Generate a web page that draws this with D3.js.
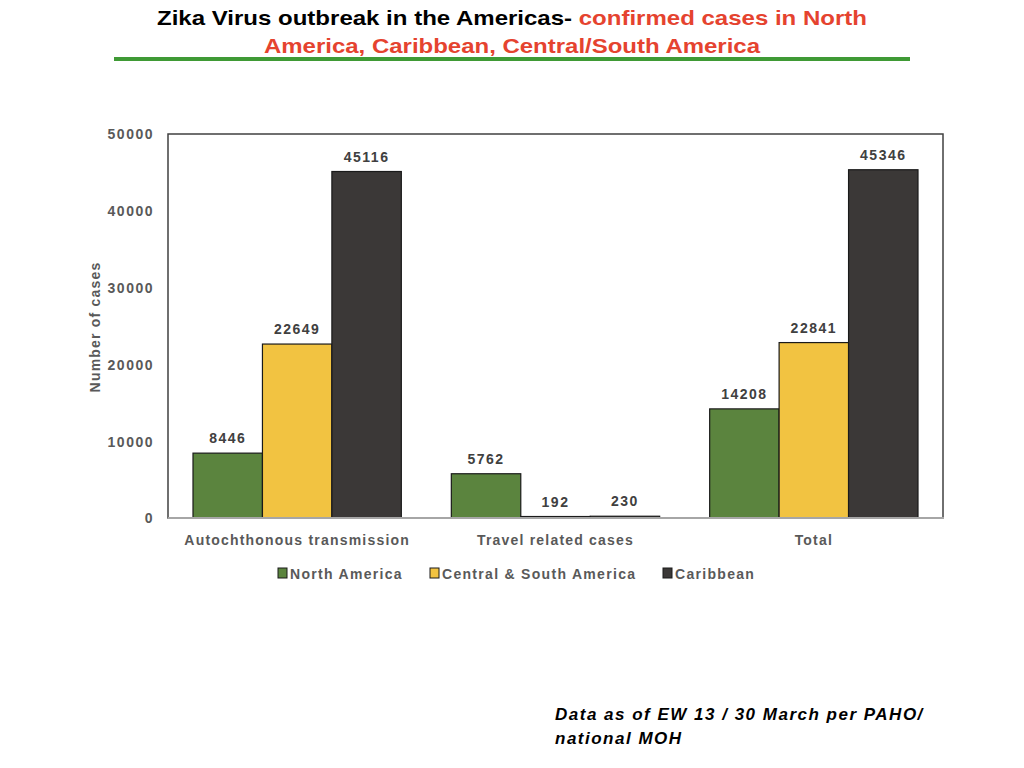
<!DOCTYPE html>
<html>
<head>
<meta charset="utf-8">
<script src="https://cdn.jsdelivr.net/npm/d3@7"></script>
<style>
body { margin:0; background:#fff; }
</style>
</head>
<body>
<svg id="mainSVG" width="1024" height="768"></svg>
<script>
// data
var categories = ["Autochthonous  transmission", "Travel related cases", "Total"];
var series = ["North America", "Central & South America", "Caribbean"];
var northAmerica = [8446, 5762, 14208];
var centralSouth = [22649, 192, 22841];
var caribbean = [45116, 230, 45346];
var colors = ["#5b843e", "#f2c341", "#3b3837"];
var yTicks = [0, 10000, 20000, 30000, 40000, 50000];

var values = [northAmerica, centralSouth, caribbean];
var svg = d3.select("#mainSVG");
var font = "'Liberation Sans', Arial, sans-serif";

// title
var t1 = svg.append("text")
    .attr("x", 512).attr("y", 25)
    .attr("text-anchor", "middle")
    .attr("font-family", font).attr("font-weight", "bold")
    .attr("font-size", 21)
    .attr("textLength", 710).attr("lengthAdjust", "spacingAndGlyphs");
t1.append("tspan").attr("fill", "#000").text("Zika Virus outbreak in the Americas- ");
t1.append("tspan").attr("fill", "#e5432f").text("confirmed cases in North");

svg.append("text")
    .attr("x", 512).attr("y", 53)
    .attr("text-anchor", "middle")
    .attr("font-family", font).attr("font-weight", "bold")
    .attr("font-size", 21).attr("fill", "#e5432f")
    .attr("textLength", 496).attr("lengthAdjust", "spacingAndGlyphs")
    .text("America, Caribbean, Central/South America");

svg.append("rect")
    .attr("x", 114).attr("y", 57).attr("width", 796).attr("height", 4)
    .attr("fill", "#3f9a35");

// chart area
var plotLeft = 168, plotTop = 134, plotRight = 943, plotBottom = 518;

var x0 = d3.scaleBand().domain(categories).range([plotLeft, plotRight]).padding(0);
var gap = 50;
var x1 = d3.scaleBand().domain(series).range([gap / 2, x0.bandwidth() - gap / 2]).padding(0);
var y = d3.scaleLinear().domain([0, 50000]).range([plotBottom, plotTop]);

svg.append("rect")
    .attr("x", plotLeft).attr("y", plotTop)
    .attr("width", plotRight - plotLeft).attr("height", plotBottom - plotTop)
    .attr("fill", "none").attr("stroke", "#404040").attr("stroke-width", 1.5);

var yAxis = svg.append("g")
    .attr("transform", "translate(" + plotLeft + ",0)")
    .call(d3.axisLeft(y).tickValues(yTicks).tickSize(0).tickPadding(14).tickFormat(d3.format("d")));
yAxis.select(".domain").remove();
yAxis.selectAll("text")
    .attr("dy", "0.35em")
    .attr("font-family", font).attr("font-weight", "bold")
    .attr("font-size", 14).attr("letter-spacing", 1.5).attr("fill", "#595959");

svg.append("text")
    .attr("transform", "translate(100,327) rotate(-90)")
    .attr("text-anchor", "middle")
    .attr("font-family", font).attr("font-weight", "bold")
    .attr("font-size", 14).attr("letter-spacing", 1.2).attr("fill", "#595959")
    .text("Number of cases");

// bars
var groups = svg.selectAll("g.cat")
    .data(categories)
    .enter().append("g")
    .attr("class", "cat")
    .attr("transform", function(d) { return "translate(" + x0(d) + ",0)"; });

groups.selectAll("rect")
    .data(function(d, i) { return series.map(function(s, j) { return {s: s, v: values[j][i], c: colors[j]}; }); })
    .enter().append("rect")
    .attr("x", function(d) { return x1(d.s); })
    .attr("y", function(d) { return y(d.v); })
    .attr("width", x1.bandwidth())
    .attr("height", function(d) { return plotBottom - y(d.v); })
    .attr("fill", function(d) { return d.c; })
    .attr("stroke", "#1a1a1a").attr("stroke-width", 1.2);

groups.selectAll("text.val")
    .data(function(d, i) { return series.map(function(s, j) { return {s: s, v: values[j][i]}; }); })
    .enter().append("text")
    .attr("class", "val")
    .attr("x", function(d) { return x1(d.s) + x1.bandwidth() / 2; })
    .attr("y", function(d) { return y(d.v) - 10; })
    .attr("text-anchor", "middle")
    .attr("font-family", font).attr("font-weight", "bold")
    .attr("font-size", 14).attr("letter-spacing", 1.5).attr("fill", "#404040")
    .text(function(d) { return d.v; });

// x axis line
svg.append("line")
    .attr("x1", plotLeft).attr("x2", plotRight + 1)
    .attr("y1", plotBottom).attr("y2", plotBottom)
    .attr("stroke", "#a6a6a6").attr("stroke-width", 2);

svg.selectAll("text.catlab")
    .data(categories)
    .enter().append("text")
    .attr("class", "catlab")
    .attr("x", function(d) { return x0(d) + x0.bandwidth() / 2; })
    .attr("y", 545)
    .attr("text-anchor", "middle")
    .attr("font-family", font).attr("font-weight", "bold")
    .attr("font-size", 14).attr("letter-spacing", 1.2).attr("fill", "#595959")
    .text(function(d) { return d; });

// legend
var legendX = [278, 430, 663];
var legend = svg.selectAll("g.leg")
    .data(series)
    .enter().append("g")
    .attr("class", "leg")
    .attr("transform", function(d, i) { return "translate(" + legendX[i] + ",568)"; });
legend.append("rect")
    .attr("width", 9).attr("height", 10)
    .attr("fill", function(d, i) { return colors[i]; })
    .attr("stroke", "#1a1a1a").attr("stroke-width", 1);
legend.append("text")
    .attr("x", 12).attr("y", 11)
    .attr("font-family", font).attr("font-weight", "bold")
    .attr("font-size", 14).attr("letter-spacing", 1.3).attr("fill", "#595959")
    .text(function(d) { return d; });

// footnote
var foot = ["Data as of EW 13 / 30 March per PAHO/", "national MOH"];
svg.selectAll("text.foot")
    .data(foot)
    .enter().append("text")
    .attr("class", "foot")
    .attr("x", 555)
    .attr("y", function(d, i) { return 720 + i * 24; })
    .attr("font-family", font).attr("font-weight", "bold").attr("font-style", "italic")
    .attr("font-size", 17).attr("letter-spacing", 1.5).attr("fill", "#000")
    .text(function(d) { return d; });
</script>
</body>
</html>
